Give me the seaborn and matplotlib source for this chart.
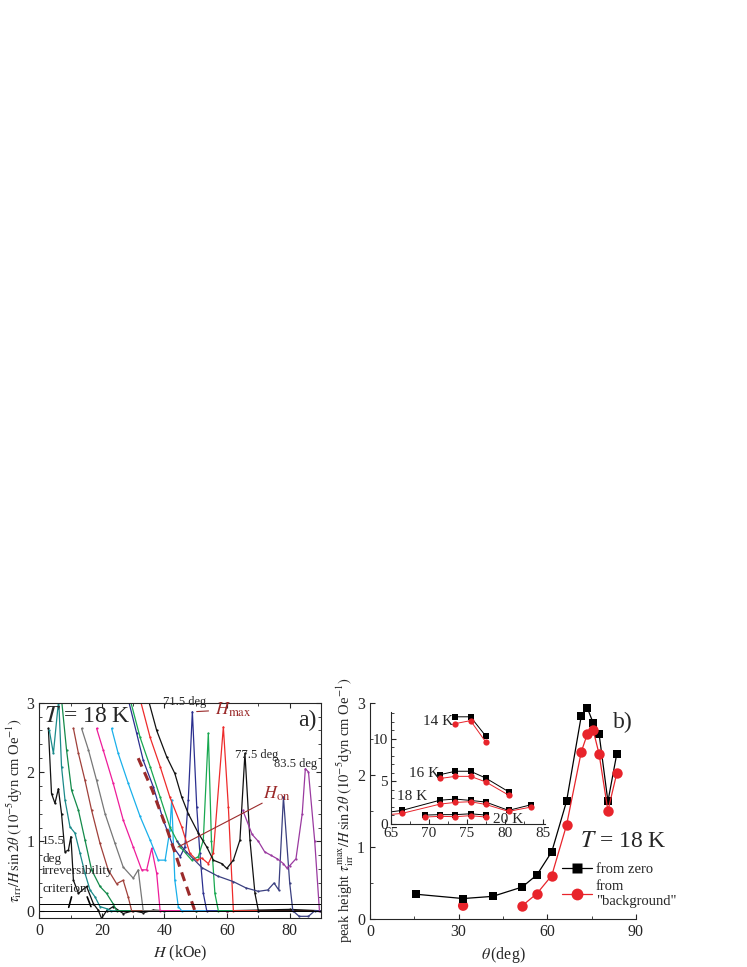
import numpy as np
import pandas as pd
import matplotlib
matplotlib.use("Agg")
import matplotlib.pyplot as plt
import seaborn as sns
from matplotlib.ticker import MultipleLocator
from matplotlib.lines import Line2D

sns.set_style("ticks", {"xtick.direction": "in", "ytick.direction": "in"})
plt.rcParams.update({"font.family": "Liberation Serif", "mathtext.fontset": "stix",
                     "font.size": 11, "xtick.direction": "in", "ytick.direction": "in"})

# ---------------- panel a data: (H kOe, tau/H sin2theta) ----------------
c_black1 = [(2.9,2.63),(3.9,1.69),(5.0,1.55),(6.1,1.76),(7.1,1.40),(8.2,0.85),(9.3,0.875),(10.1,1.07),
            (10.9,0.44),(12.5,0.25),(15.1,0.35),(17.3,0.1),(18.8,0.01),(19.9,-0.11),(21.5,0.0),(23.6,0.06),
            (26.8,-0.04),(30.0,0.0),(33.2,-0.03),(36.4,0.01),(40.0,0.0),(50,0.0),(60,0.0),(70,0.01),(80,0.02),(90,0.0)]
c_teal = [(3.2,2.6),(4.5,2.27),(6.2,3.05),(7.1,2.08),(8.2,1.6),(9.8,1.21),(11.4,1.12),(13.0,0.83),(14.6,0.54),
          (16.2,0.3),(17.8,0.2),(19.4,0.06),(21.5,0.03),(23.0,0.0),(40,0.0),(60,0.0),(90,-0.01)]
c_dgreen = [(7.1,3.05),(8.7,2.32),(10.3,1.74),(12.5,1.45),(14.6,1.02),(16.7,0.59),(19.4,0.35),(21.5,0.25),
            (23.6,0.1),(24.7,0.0),(50,0.0),(90,0.0)]
c_brown = [(10.9,2.63),(12.5,2.27),(14.6,1.88),(16.7,1.45),(19.4,0.97),(22.0,0.59),(24.7,0.39),(26.8,0.44),
           (28.4,0.2),(29.5,0.0),(60,0.0),(90,0.0)]
c_gray = [(13.5,2.63),(15.7,2.32),(18.3,1.88),(21.0,1.4),(24.2,0.97),(26.8,0.63),(30.0,0.47),(31.6,0.59),
          (33.2,0.0),(60,0.0),(90,0.0)]
c_magenta = [(18.3,2.63),(20.4,2.32),(23.6,1.84),(26.8,1.31),(30.0,0.92),(32.7,0.59),(34.3,0.59),(35.9,0.9),
             (37.5,0.54),(38.6,0.0),(60,0.0),(90,0.0)]
c_lblue = [(23.1,2.63),(25.2,2.27),(28.4,1.84),(32.2,1.36),(35.4,1.02),(38.0,0.73),(40.2,0.73),(41.7,1.16),
           (42.3,1.6),(43.3,0.44),(44.4,0.06),(45.5,0.0),(70,0.0),(90,0.0)]
c_navy1 = [(28.4,3.05),(31.1,2.56),(33.2,2.17),(36.4,1.79),(39.6,1.31),(42.8,0.92),(45.0,0.78),(46.5,0.92),
           (47.6,1.6),(48.9,2.87),(50.3,1.5),(51.3,0.83),(52.4,0.25),(53.5,0.0),(70,0.0),(90,0.0)]
c_green = [(29.0,3.05),(32.2,2.5),(35.4,2.08),(38.6,1.64),(41.7,1.21),(45.0,0.92),(48.7,0.73),(50.8,0.78),
           (52.4,1.02),(54.0,2.56),(55.0,1.0),(56.1,0.25),(57.2,0.0),(90,0.0)]
c_red = [(32.2,3.05),(35.4,2.5),(38.6,2.08),(41.7,1.64),(45.5,1.21),(48.1,0.83),(50.3,0.73),(51.9,0.76),
         (54.0,0.68),(55.6,0.83),(58.8,2.65),(60.4,1.5),(62.0,0.0),(90,0.0)]
c_black2 = [(34.8,3.05),(37.5,2.6),(40.7,2.22),(43.3,1.98),(45.5,1.64),(47.6,1.4),(50.8,1.12),(53.5,0.92),
            (55.6,0.73),(58.3,0.68),(59.9,0.61),(62.0,0.73),(64.1,1.02),(65.7,2.27),(67.3,1.02),(68.9,0.25),
            (70.0,0.0),(90,0.0)]
c_navy2 = [(44,1.0),(47,0.85),(52,0.62),(57,0.5),(62,0.42),(66,0.33),(70,0.28),(73,0.3),(75,0.4),(76.5,0.3),
           (78,1.64),(80,0.4),(81,0.0),(83,-0.08),(86,-0.08),(88,0.0),(90,0.0)]
c_purple = [(65,1.45),(68,1.1),(70,1.0),(72,0.85),(74,0.8),(76,0.75),(78,0.68),(79,0.62),(80,0.65),(82,0.75),
            (84,1.4),(85,2.05),(86,2.0),(88,1.0),(89.5,0.0)]
curves_a = [(c_black1,"#111111"),(c_teal,"#1b8a8a"),(c_dgreen,"#138a4a"),(c_brown,"#a0403a"),
            (c_gray,"#777777"),(c_magenta,"#ee1c9a"),(c_lblue,"#1ab0ea"),(c_navy1,"#2b2f8f"),
            (c_green,"#18a850"),(c_red,"#ee2b2b"),(c_black2,"#111111"),(c_navy2,"#3a3f80"),(c_purple,"#9a3aa0")]
hon_H = [31.6, 36.0, 41.0, 45.5, 49.7]
hon_y = [2.2, 1.75, 1.15, 0.55, 0.0]

# ---------------- panel b data ----------------
theta_zero = [15.5, 31.5, 41.5, 51.5, 56.5, 61.5, 66.5, 71.5, 73.5, 75.5, 77.5, 80.5, 83.5]
peak_zero = [0.34, 0.28, 0.31, 0.44, 0.61, 0.93, 1.63, 2.82, 2.93, 2.72, 2.57, 1.63, 2.29]
theta_bg = [31.5, 51.5, 56.5, 61.5, 66.5, 71.5, 73.5, 75.5, 77.5, 80.5, 83.5]
peak_bg = [0.18, 0.18, 0.35, 0.60, 1.30, 2.32, 2.56, 2.62, 2.29, 1.50, 2.02]

in_theta_14 = [73.5, 75.5, 77.5]
in_zero_14 = [12.6, 12.6, 10.35]
in_bg_14 = [11.8, 12.15, 9.65]
in_theta_16 = [71.5, 73.5, 75.5, 77.5, 80.5]
in_zero_16 = [5.8, 6.2, 6.2, 5.4, 3.8]
in_bg_16 = [5.35, 5.6, 5.6, 4.95, 3.4]
in_theta_18 = [63.5, 66.5, 71.5, 73.5, 75.5, 77.5, 80.5, 83.5]
in_zero_18 = [1.25, 1.6, 2.8, 2.93, 2.77, 2.58, 1.6, 2.27]
in_bg_18 = [1.0, 1.25, 2.34, 2.54, 2.62, 2.3, 1.48, 2.0]
in_theta_20 = [69.5, 71.5, 73.5, 75.5, 77.5]
in_zero_20 = [1.05, 1.1, 1.1, 1.2, 1.05]
in_bg_20 = [0.82, 0.9, 0.86, 0.98, 0.82]

RED = "#e8242b"
fig = plt.figure(figsize=(7.47, 9.67), dpi=100)
W, Hh = 747, 967
def rect(x0, y0, x1, y1):
    return [x0 / W, 1 - y1 / Hh, (x1 - x0) / W, (y1 - y0) / Hh]

# ---------------- panel a ----------------
ax = fig.add_axes(rect(39.3, 702.7, 321, 917.7))
for pts, col in curves_a:
    df = pd.DataFrame(pts, columns=["H", "v"])
    sns.lineplot(data=df, x="H", y="v", ax=ax, color=col, lw=0.9, sort=False, estimator=None,
                 marker="o", markersize=1.6, markeredgewidth=0, legend=False)
ax.plot(hon_H, hon_y, ls=(0, (3, 2)), color="#9b2b2b", lw=2.2)
ax.axhline(0, color="black", lw=0.7)
ax.axhline(0.1, color="black", lw=0.7)
ax.set_xlim(0, 90); ax.set_ylim(-0.1, 3)
ax.xaxis.set_major_locator(MultipleLocator(20)); ax.xaxis.set_minor_locator(MultipleLocator(10))
ax.yaxis.set_major_locator(MultipleLocator(1)); ax.yaxis.set_minor_locator(MultipleLocator(0.2))
ax.tick_params(which="both", top=True, right=True, labelsize=11.5)
ax.set_xlabel(r"$H$ (kOe)", fontsize=11.5)
ax.set_ylabel(r"$\tau_{\rm irr}/H\,\sin2\theta\;(10^{-5}$dyn cm Oe$^{-1})$", fontsize=10.5, labelpad=1)
ax.text(1.5, 2.95, r"$T$ = 18 K", fontsize=17, va="top")
ax.text(88.5, 2.9, "a)", fontsize=17, ha="right", va="top")
ax.text(39.5, 2.97, "71.5 deg", fontsize=9)
ax.text(62.5, 2.2, "77.5 deg", fontsize=9)
ax.text(75, 2.07, "83.5 deg", fontsize=9)
ax.annotate(r"$H_{\rm max}$", xy=(49.4, 2.87), xytext=(56, 2.9), fontsize=13, color="#9b2b2b",
            va="center", arrowprops=dict(arrowstyle="-", color="#9b2b2b", lw=0.8))
ax.text(71.5, 1.68, r"$H_{\rm on}$", fontsize=13, color="#9b2b2b", va="center")
ax.annotate("", xy=(43.5, 0.9), xytext=(72, 1.57),
            arrowprops=dict(arrowstyle="-", color="#9b2b2b", lw=0.8))
ax.text(0.9, 0.7, "15.5\ndeg", fontsize=9.5, linespacing=1.7)
ax.text(0.9, 0.27, "irreversibility\ncriterion", fontsize=9.5, linespacing=1.7)
ax.plot([10.3, 9.4], [0.2, 0.05], color="black", lw=1.2)
ax.plot([15.3, 16.5], [0.2, 0.06], color="black", lw=1.2)

# ---------------- panel b ----------------
bx = fig.add_axes(rect(370, 702.7, 636, 918.7))
sns.lineplot(x=theta_zero, y=peak_zero, ax=bx, color="black", lw=0.9, marker="s", markersize=6,
             markeredgewidth=0, sort=False, estimator=None, legend=False)
sns.lineplot(x=theta_bg[1:], y=peak_bg[1:], ax=bx, color=RED, lw=0.9, marker="o", markersize=7.5,
             markeredgewidth=0, sort=False, estimator=None, legend=False)
sns.scatterplot(x=theta_bg[:1], y=peak_bg[:1], ax=bx, color=RED, s=55, edgecolor="none", legend=False)
bx.set_xlim(0, 90); bx.set_ylim(0, 3)
bx.xaxis.set_major_locator(MultipleLocator(30)); bx.xaxis.set_minor_locator(MultipleLocator(15))
bx.yaxis.set_major_locator(MultipleLocator(1)); bx.yaxis.set_minor_locator(MultipleLocator(0.5))
bx.tick_params(which="both", labelsize=11.5)
sns.despine(ax=bx)
bx.set_xlabel(r"$\theta\,$(deg)", fontsize=11.5)
bx.set_ylabel(r"peak height $\tau_{\rm irr}^{\rm max}/H\,\sin2\theta\;(10^{-5}$dyn cm Oe$^{-1})$",
              fontsize=10.5, labelpad=1)
bx.text(89, 2.87, "b)", fontsize=17, ha="right", va="top")
bx.text(71, 1.0, r"$T$ = 18 K", fontsize=17)
handles = [Line2D([], [], color="black", lw=0.9, marker="s", ms=7, mec="none"),
           Line2D([], [], color=RED, lw=0.9, marker="o", ms=8.5, mec="none")]
leg = bx.legend(handles, ["from zero", "from\n\"background\""], loc="lower left",
                bbox_to_anchor=(0.685, 0.0), frameon=False, fontsize=10.5, handlelength=2.0,
                labelspacing=0.3, borderpad=0.2, handletextpad=0.3)

# ---------------- inset ----------------
ix = fig.add_axes(rect(390.7, 711.7, 545, 824))
for th, z, b in [(in_theta_14, in_zero_14, in_bg_14), (in_theta_16, in_zero_16, in_bg_16),
                 (in_theta_18, in_zero_18, in_bg_18), (in_theta_20, in_zero_20, in_bg_20)]:
    sns.lineplot(x=th, y=z, ax=ix, color="black", lw=0.7, marker="s", markersize=4,
                 markeredgewidth=0, sort=False, estimator=None, legend=False)
    sns.lineplot(x=th, y=b, ax=ix, color=RED, lw=0.7, marker="o", markersize=4.5,
                 markeredgewidth=0, sort=False, estimator=None, legend=False)
ix.set_xlim(65, 85.3); ix.set_ylim(0, 13.2)
ix.xaxis.set_major_locator(MultipleLocator(5)); ix.xaxis.set_minor_locator(MultipleLocator(2.5))
ix.yaxis.set_major_locator(MultipleLocator(5)); ix.yaxis.set_minor_locator(MultipleLocator(1))
ix.tick_params(which="both", labelsize=11, pad=2)
sns.despine(ax=ix)
ix.patch.set_alpha(0)
ix.text(73.2, 12.0, "14 K", fontsize=11, ha="right", va="center")
ix.text(71.4, 5.9, "16 K", fontsize=11, ha="right", va="center")
ix.text(69.8, 3.2, "18 K", fontsize=11, ha="right", va="center")
ix.text(78.4, 0.55, "20 K", fontsize=11, va="center")

fig.savefig("out.png", dpi=100)
